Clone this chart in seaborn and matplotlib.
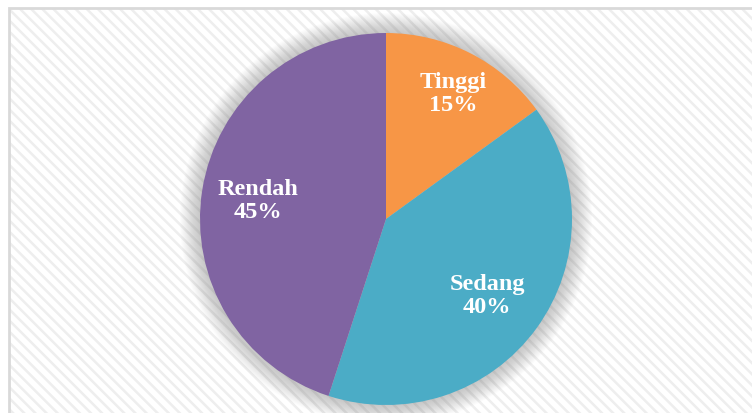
import matplotlib
matplotlib.use("Agg")
import matplotlib.pyplot as plt
import seaborn as sns
from matplotlib.patches import Rectangle, Circle

categories = ["Tinggi", "Sedang", "Rendah"]
shares = [15, 40, 45]
colors = ["#F79646", "#4BACC6", "#8064A2"]

sns.set_theme(style="white")
plt.rcParams["hatch.linewidth"] = 1.8

W, H = 752, 414
fig = plt.figure(figsize=(W / 100, H / 100), dpi=100)
ax = fig.add_axes([0, 0, 1, 1])
ax.set_xlim(0, W)
ax.set_ylim(0, H)
ax.set_aspect("equal")
ax.axis("off")

# striped chart area + frame (top edge ~9px below the figure top)
ax.add_patch(Rectangle((9, -5), W, H - 4, facecolor="white",
                       edgecolor="#eeeeee", hatch="\\\\\\", linewidth=0, zorder=0))
ax.add_patch(Rectangle((9, -5), W, H - 4, facecolor="none",
                       edgecolor="#d9d9d9", linewidth=2, zorder=1))

cx, cy, r = 386, H - 220, 186

# soft shadow around the pie
for k in range(20, 0, -1):
    ax.add_patch(Circle((cx, cy), r + k, facecolor="#808080",
                        edgecolor="none", alpha=0.022, zorder=2))

ax.pie(shares, colors=colors, startangle=90, counterclock=False,
       center=(cx, cy), radius=r, frame=True,
       wedgeprops=dict(linewidth=0, zorder=3))
ax.set_xlim(0, W)
ax.set_ylim(0, H)
ax.axis("off")

label_pos = [(453, 94), (487, 296), (258, 201)]
for name, val, (x, y) in zip(categories, shares, label_pos):
    ax.text(x, H - y, f"{name}\n{val}%", ha="center", va="center",
            color="white", fontsize=17.5, fontweight="bold",
            family="Liberation Serif", linespacing=1.12, zorder=5)

fig.savefig("out.png", dpi=100)
